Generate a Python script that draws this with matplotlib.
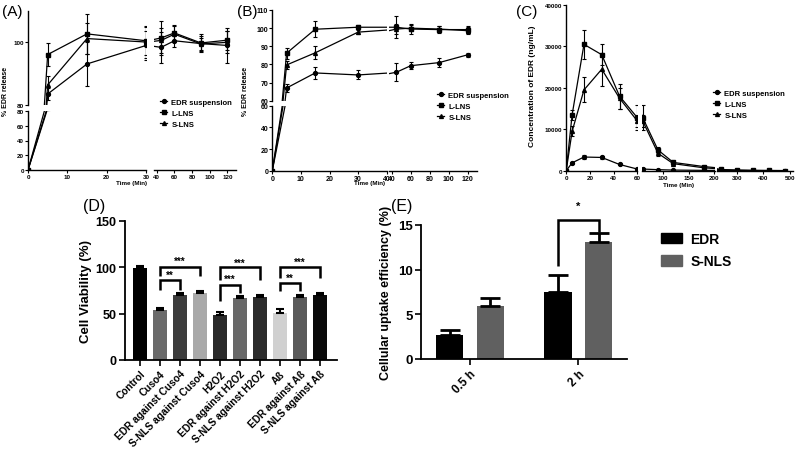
import matplotlib
matplotlib.use('Agg')
import matplotlib.pyplot as plt
from matplotlib.lines import Line2D
from matplotlib.patches import Patch
import numpy as np

plt.rcParams['font.family'] = ['Liberation Sans', 'DejaVu Sans']
plt.rcParams['font.weight'] = 'bold'
plt.rcParams['axes.labelweight'] = 'bold'
plt.rcParams['axes.linewidth'] = 1.0

W, H = 800, 452

# (A) in vitro release, %
t_a = [0, 5, 15, 30, 45, 60, 90, 120]
a_edr = [0, 83.5, 93.1, 99.0, 98.4, 100.5, 99.6, 99.0]
a_l = [0, 96.1, 102.7, 100.5, 101.4, 103.0, 99.8, 100.7]
a_s = [0, 86.4, 101.2, 100.1, 100.6, 102.6, 99.5, 100.0]
a_edr_err = [0, 2.0, 7.0, 4.5, 5.0, 2.0, 2.5, 5.5]
a_l_err = [0, 3.6, 6.5, 4.5, 5.5, 2.5, 3.0, 3.0]
a_s_err = [0, 3.0, 5.0, 5.0, 4.0, 2.5, 2.0, 3.5]

# (B) in vitro release, %
t_b = [0, 5, 15, 30, 45, 60, 90, 120]
b_edr = [0, 67.0, 75.3, 74.2, 75.7, 79.3, 81.0, 85.3]
b_l = [0, 86.2, 99.4, 100.5, 100.5, 99.5, 99.2, 99.2]
b_s = [0, 79.7, 86.4, 97.8, 99.5, 100.0, 99.5, 98.6]
b_edr_err = [0, 2.0, 3.5, 2.5, 5.0, 2.0, 2.5, 1.0]
b_l_err = [0, 3.0, 4.5, 1.0, 6.0, 3.0, 2.0, 2.0]
b_s_err = [0, 2.0, 3.5, 1.0, 3.0, 1.5, 1.5, 2.0]

# (C) plasma concentration, ng/mL
t_c = [0, 5, 15, 30, 45, 60, 90, 120, 180, 240, 300, 360, 420, 480]
c_edr = [0, 1900, 3300, 3200, 1500, 400, 250, 150, 80, 50, 30, 20, 10, 5]
c_l = [0, 13500, 30500, 28000, 18000, 12800, 5000, 2000, 1000, 300, 150, 80, 50, 30]
c_s = [0, 9500, 19500, 24500, 17500, 12000, 4200, 1700, 700, 200, 100, 60, 40, 20]
c_edr_err = [0, 300, 500, 300, 200, 100, 50, 30, 20, 10, 10, 10, 5, 5]
c_l_err = [0, 1200, 3500, 2500, 3000, 3000, 800, 400, 200, 100, 50, 30, 20, 10]
c_s_err = [0, 1200, 3000, 4000, 2500, 1500, 700, 300, 150, 80, 40, 20, 10, 10]

series_names = ['EDR suspension', 'L-LNS', 'S-LNS']
series_markers = ['o', 's', '^']

# (D) cell viability
d_labels = ['Control', 'Cuso4', 'EDR against Cuso4', 'S-NLS against Cuso4',
            'H2O2', 'EDR against H2O2', 'S-NLS against H2O2',
            'A\u00df', 'EDR against A\u00df', 'S-NLS against A\u00df']
d_vals = [99, 53.5, 70, 71.7, 48, 66.4, 68.2, 51, 68, 70]
d_err = [2.5, 2.8, 2.5, 2.3, 3.2, 2.0, 1.5, 3.5, 2.5, 2.5]
d_colors = ['#000000', '#6a6a6a', '#3c3c3c', '#a9a9a9', '#2a2a2a',
            '#686868', '#2c2c2c', '#d0d0d0', '#5a5a5a', '#0a0a0a']

# (E) cellular uptake
e_groups = ['0.5 h', '2 h']
e_edr = [2.7, 7.55]
e_snls = [5.95, 13.05]
e_edr_err = [0.55, 1.9]
e_snls_err = [0.9, 1.1]

fig = plt.figure(figsize=(8, 4.52), dpi=100)


def box(l, t, r, b):
    return [l / W, 1 - b / H, (r - l) / W, (b - t) / H]


def add_ax(l, t, r, b, spines, fs=4.5):
    ax = fig.add_axes(box(l, t, r, b))
    ax.patch.set_alpha(0)
    for s in ['top', 'right', 'left', 'bottom']:
        ax.spines[s].set_visible(s in spines)
    ax.tick_params(labelsize=fs, length=2, width=0.8, pad=1)
    if 'left' not in spines:
        ax.tick_params(left=False, labelleft=False)
    if 'bottom' not in spines:
        ax.tick_params(bottom=False, labelbottom=False)
    return ax


def draw_series(ax, t, ys, errs):
    for y, e, m in zip(ys, errs, series_markers):
        ax.errorbar(t, y, yerr=e, color='black', marker=m, ms=2.8, lw=0.9,
                    elinewidth=0.8, capsize=1.5, capthick=0.8)


def small_legend(x, y):
    handles = [Line2D([], [], color='black', marker=m, ms=2.8, lw=0.9)
               for m in series_markers]
    fig.legend(handles, series_names, loc='upper left',
               bbox_to_anchor=(x / W, 1 - y / H), frameon=False,
               prop={'size': 5.5, 'weight': 'bold'}, handlelength=1.0,
               handletextpad=0.5, labelspacing=0.45, borderpad=0)


# ---------- (A)
a_ys = [a_edr, a_l, a_s]
a_es = [a_edr_err, a_l_err, a_s_err]
ax = add_ax(28, 112, 146, 171, ['left', 'bottom'])
draw_series(ax, t_a, a_ys, a_es)
ax.set_xlim(0, 30); ax.set_ylim(0, 80)
ax.set_xticks([0, 10, 20, 30]); ax.set_yticks([0, 20, 40, 60, 80])
ax = add_ax(28, 12, 146, 106, ['left'])
draw_series(ax, t_a, a_ys, a_es)
ax.set_xlim(0, 30); ax.set_ylim(80, 110)
ax.set_yticks([80, 100])
ax = add_ax(154, 112, 236, 171, ['bottom'])
ax.set_xlim(37, 129.6); ax.set_ylim(0, 80)
ax.set_xticks([40, 60, 80, 100, 120])
ax = add_ax(154, 12, 236, 106, [])
draw_series(ax, t_a, a_ys, a_es)
ax.set_xlim(37, 129.6); ax.set_ylim(80, 110)
small_legend(156, 96)
fig.text(132 / W, 1 - 184 / H, 'Time (Min)', fontsize=4.5, ha='center', va='center')
fig.text(6 / W, 1 - 91 / H, '% EDR release', fontsize=5, rotation=90, ha='center', va='center')
fig.text(2 / W, 1 - 12 / H, '(A)', fontsize=11, weight='normal', va='center')

# ---------- (B)
b_ys = [b_edr, b_l, b_s]
b_es = [b_edr_err, b_l_err, b_s_err]
ax = add_ax(272.3, 106.7, 386.7, 171.7, ['left', 'bottom'], fs=5)
draw_series(ax, t_b, b_ys, b_es)
ax.set_xlim(0, 40); ax.set_ylim(0, 60)
ax.set_xticks([0, 10, 20, 30, 40]); ax.set_yticks([0, 20, 40, 60])
ax = add_ax(272.3, 11, 386.7, 101.7, ['left'], fs=5)
draw_series(ax, t_b, b_ys, b_es)
ax.set_xlim(0, 40); ax.set_ylim(60, 110)
ax.set_yticks([60, 70, 80, 90, 100, 110])
ax = add_ax(389, 106.7, 476.7, 171.7, ['bottom'], fs=5)
draw_series(ax, t_b, b_ys, b_es)
ax.set_xlim(37.1, 129.6); ax.set_ylim(0, 60)
ax.set_xticks([40, 60, 80, 100, 120])
ax = add_ax(389, 11, 476.7, 101.7, [], fs=5)
draw_series(ax, t_b, b_ys, b_es)
ax.set_xlim(37.1, 129.6); ax.set_ylim(60, 110)
small_legend(433, 89)
fig.text(370 / W, 1 - 184 / H, 'Time (Min)', fontsize=4.5, ha='center', va='center')
fig.text(245 / W, 1 - 91 / H, '% EDR release', fontsize=5, rotation=90, ha='center', va='center')
fig.text(237 / W, 1 - 12 / H, '(B)', fontsize=11, weight='normal', va='center')

# ---------- (C)
c_ys = [c_edr, c_l, c_s]
c_es = [c_edr_err, c_l_err, c_s_err]
ax = add_ax(566.2, 6, 637.3, 171.7, ['left', 'bottom'])
draw_series(ax, t_c, c_ys, c_es)
ax.set_xlim(0, 60); ax.set_ylim(0, 40000)
ax.set_xticks([0, 20, 40, 60]); ax.set_yticks([0, 10000, 20000, 30000, 40000])
ax = add_ax(641.7, 6, 715, 171.7, ['bottom'])
draw_series(ax, t_c, c_ys, c_es)
ax.set_xlim(58, 202); ax.set_ylim(0, 40000)
ax.set_xticks([100, 150, 200])
ax = add_ax(717.3, 6, 793, 171.7, ['bottom'])
draw_series(ax, t_c, c_ys, c_es)
ax.set_xlim(227, 511); ax.set_ylim(0, 40000)
ax.set_xticks([300, 400, 500])
small_legend(709, 87)
fig.text(679 / W, 1 - 186 / H, 'Time (Min)', fontsize=4.5, ha='center', va='center')
fig.text(533 / W, 1 - 86 / H, 'Concentration of EDR (ng/mL)', fontsize=6, rotation=90,
         ha='center', va='center')
fig.text(516 / W, 1 - 12 / H, '(C)', fontsize=11, weight='normal', va='center')


def bracket(ax, x1, x2, y, h1, h2, text, ty, fs=7):
    ax.plot([x1, x1, x2, x2], [h1, y, y, h2], color='black', lw=1.8,
            clip_on=False, solid_joinstyle='miter', solid_capstyle='butt')
    ax.text((x1 + x2) / 2, ty, text, ha='center', va='center', fontsize=fs)


# ---------- (D)
ax = add_ax(125, 221.7, 337, 361, ['left', 'bottom'], fs=9)
ax.tick_params(length=4, width=1.2, pad=2)
ax.spines['left'].set_linewidth(1.3); ax.spines['bottom'].set_linewidth(1.3)
xd = np.arange(len(d_vals))
ax.bar(xd, d_vals, width=0.7, color=d_colors)
ax.errorbar(xd, d_vals, yerr=[np.zeros(len(d_err)), d_err], fmt='none', ecolor='black',
            elinewidth=1.5, capsize=3, capthick=1.5)
ax.set_xlim(-0.75, 9.85); ax.set_ylim(0, 150)
ax.set_yticks([0, 50, 100, 150])
ax.set_xticks(xd)
ax.set_xticklabels(d_labels, rotation=45, ha='right', rotation_mode='anchor', fontsize=7.3)
ax.set_ylabel('Cell Viability (%)', fontsize=9.5, labelpad=3)
bracket(ax, 1, 3, 100.5, 90, 90, '***', 107)
bracket(ax, 1, 2, 86.5, 75, 75, '**', 92)
bracket(ax, 4, 6, 100.5, 86, 86, '***', 105)
bracket(ax, 4, 5, 81, 63, 72.5, '***', 87)
bracket(ax, 7, 9, 100.5, 88.5, 88.5, '***', 106)
bracket(ax, 7, 8, 82.5, 74, 74, '**', 89)
fig.text(83 / W, 1 - 207 / H, '(D)', fontsize=11.5, weight='normal', va='center')

# ---------- (E)
ax = add_ax(421, 226, 626.7, 360, ['left', 'bottom'], fs=9.5)
ax.tick_params(length=4, width=1.2, pad=2)
ax.spines['left'].set_linewidth(1.3); ax.spines['bottom'].set_linewidth(1.3)
xe = np.arange(len(e_groups))
off, bw = 0.187, 0.25
ax.bar(xe - off, e_edr, width=bw, color='black', label='EDR')
ax.bar(xe + off, e_snls, width=bw, color='#606060', label='S-NLS')
ax.errorbar(xe - off, e_edr, yerr=[[0, 0], e_edr_err], fmt='none', ecolor='black',
            elinewidth=2, capsize=7, capthick=2)
ax.errorbar(xe + off, e_snls, yerr=[[0, 0], e_snls_err], fmt='none', ecolor='black',
            elinewidth=2, capsize=7, capthick=2)
ax.set_xlim(-0.452, 1.447); ax.set_ylim(0, 15)
ax.set_yticks([0, 5, 10, 15])
ax.set_xticks(xe)
ax.set_xticklabels(e_groups, rotation=45, ha='right', rotation_mode='anchor', fontsize=8.5)
ax.set_ylabel('Cellular uptake efficiency (%)', fontsize=9, labelpad=4)
bracket(ax, 1 - off, 1 + off, 15.6, 10.4, 14.2, '*', 17.1, fs=8)
fig.legend(handles=[Patch(color='black'), Patch(color='#606060')], labels=['EDR', 'S-NLS'],
           loc='upper left', bbox_to_anchor=(654 / W, 1 - 226 / H), frameon=False,
           prop={'size': 10, 'weight': 'bold'}, handlelength=1.5, handleheight=0.8,
           handletextpad=0.6, labelspacing=0.6, borderpad=0)
fig.text(391 / W, 1 - 207 / H, '(E)', fontsize=11.5, weight='normal', va='center')

fig.savefig('out.png', dpi=100)
